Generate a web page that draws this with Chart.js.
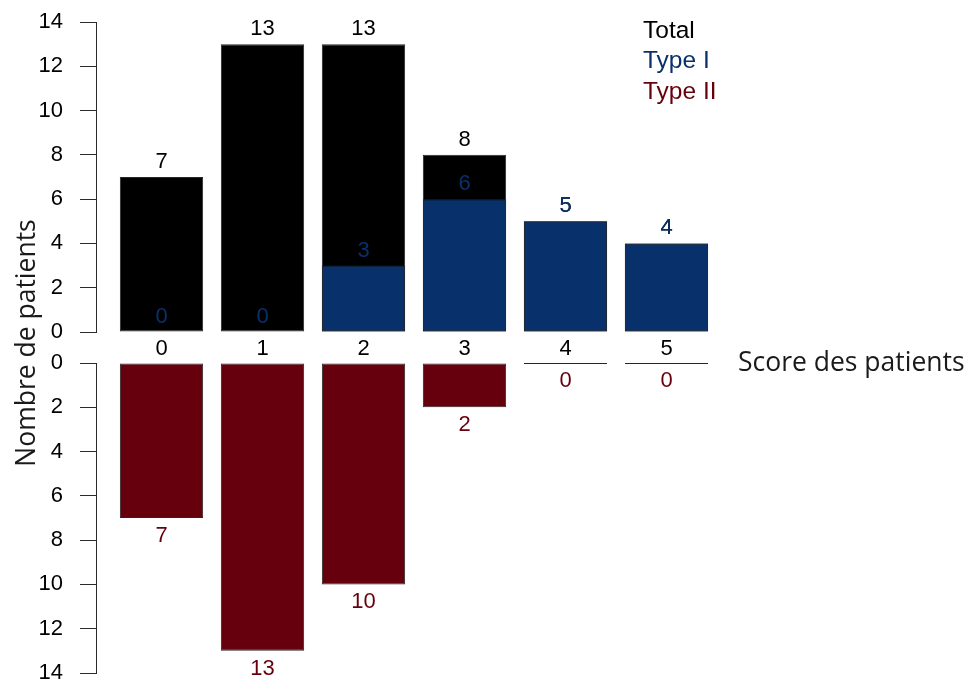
<!DOCTYPE html>
<html><head><meta charset="utf-8">
<script src="https://cdn.jsdelivr.net/npm/chart.js@4.4.1/dist/chart.umd.min.js"></script>
<style>
html,body{margin:0;padding:0;background:#fff;}
#wrap{position:relative;width:966px;height:684px;overflow:hidden;}
canvas{position:absolute;left:0;top:0;}
</style></head><body>
<div id="wrap"><canvas id="topChart" width="966" height="684"></canvas><canvas id="botChart" width="966" height="684"></canvas></div>
<script>
// ---- data ----
const categories = [0, 1, 2, 3, 4, 5];
const totalValues = [7, 13, 13, 8, 5, 4];
const typeIValues = [0, 0, 3, 6, 5, 4];
const typeIIValues = [7, 13, 10, 2, 0, 0];
const yTicks = [0, 2, 4, 6, 8, 10, 12, 14];
const seriesNames = ['Total', 'Type I', 'Type II'];
const xTitle = 'Score des patients';
const yTitle = 'Nombre de patients';

// ---- styles ----
const COL_TOTAL = '#000000';
const COL_T1 = '#08306B';
const COL_T2 = '#67000D';
const BORDER = '#262626';
const AXIS = '#2b2b2b';
const FONT = '"Liberation Sans", Arial, sans-serif';
const X_MIN = -0.6485, X_MAX = 5.6287;

Chart.defaults.font.family = FONT;
Chart.defaults.color = '#000';

const toXY = (vals) => categories.map((c, i) => ({ x: c, y: vals[i] }));

const valueLabels = {
  id: 'valueLabels',
  afterDatasetsDraw(chart) {
    const ctx = chart.ctx;
    ctx.save();
    ctx.font = '22px ' + FONT;
    ctx.textAlign = 'center';
    ctx.textBaseline = 'middle';
    chart.data.datasets.forEach((ds, di) => {
      const meta = chart.getDatasetMeta(di);
      ctx.fillStyle = ds.labelColor;
      meta.data.forEach((el, i) => {
        const end = chart.scales.y.getPixelForValue(ds.data[i].y);
        ctx.fillText(String(ds.data[i].y), el.x, end + ds.labelOffset);
      });
    });
    ctx.restore();
  }
};

const annotations = {
  id: 'annotations',
  afterDraw(chart) {
    const ctx = chart.ctx;
    ctx.save();
    ctx.font = '24.5px ' + FONT;
    ctx.textAlign = 'left';
    ctx.textBaseline = 'middle';
    const cols = [COL_TOTAL, COL_T1, COL_T2];
    seriesNames.forEach((n, i) => {
      ctx.fillStyle = cols[i];
      ctx.fillText(n, 643, 31 + 30.5 * i);
    });
    ctx.font = '26.5px "Open Sans", sans-serif';
    ctx.fillStyle = '#1a1a1a';
    ctx.textBaseline = 'alphabetic';
    ctx.fillText(xTitle, 738, 371);
    ctx.translate(35, 343);
    ctx.rotate(-Math.PI / 2);
    ctx.textAlign = 'center';
    ctx.fillText(yTitle, 0, 0);
    ctx.restore();
  }
};

function yAxis(reverse) {
  return {
    type: 'linear',
    position: 'left',
    min: 0, max: 14,
    reverse: reverse,
    afterBuildTicks: (s) => { s.ticks = yTicks.map(v => ({ value: v })); },
    afterFit: (s) => { s.width = 96; s.paddingTop = 0; s.paddingBottom = 0; },
    ticks: { font: { size: 22 }, color: '#000', padding: 17 },
    grid: { display: true, drawOnChartArea: false, drawTicks: true, tickLength: 16, color: AXIS, lineWidth: 1 },
    border: { display: true, color: AXIS, width: 1 }
  };
}

const barCommon = { borderColor: BORDER, borderWidth: 1, borderSkipped: false, barPercentage: 1, categoryPercentage: 0.825, grouped: false };

new Chart(document.getElementById('topChart'), {
  type: 'bar',
  data: {
    datasets: [
      Object.assign({ label: seriesNames[0], data: toXY(totalValues), backgroundColor: COL_TOTAL, order: 2, labelColor: COL_TOTAL, labelOffset: -15 }, barCommon),
      Object.assign({ label: seriesNames[1], data: toXY(typeIValues), backgroundColor: COL_T1, order: 1, labelColor: COL_T1, labelOffset: -15 }, barCommon)
    ]
  },
  options: {
    responsive: false, animation: false,
    layout: { padding: { top: 22, left: 0, right: 236, bottom: 322 } },
    plugins: { legend: { display: false }, tooltip: { enabled: false } },
    scales: {
      x: {
        type: 'linear', position: 'bottom', min: X_MIN, max: X_MAX, offset: false,
        afterBuildTicks: (s) => { s.ticks = categories.map(v => ({ value: v })); },
        afterFit: (s) => { s.height = 30; s.paddingLeft = 0; s.paddingRight = 0; },
        ticks: { font: { size: 22 }, color: '#000', padding: 4, callback: (v) => String(v) },
        grid: { display: false, drawTicks: false, offset: false },
        border: { display: false }
      },
      y: yAxis(false)
    }
  },
  plugins: [valueLabels, annotations]
});

new Chart(document.getElementById('botChart'), {
  type: 'bar',
  data: {
    datasets: [
      Object.assign({ label: seriesNames[2], data: toXY(typeIIValues), backgroundColor: COL_T2, labelColor: COL_T2, labelOffset: 18, minBarLength: 2 }, barCommon)
    ]
  },
  options: {
    responsive: false, animation: false,
    layout: { padding: { top: 363, left: 0, right: 236, bottom: 11 } },
    plugins: { legend: { display: false }, tooltip: { enabled: false } },
    scales: {
      x: {
        type: 'linear', min: X_MIN, max: X_MAX, offset: false,
        afterBuildTicks: (s) => { s.ticks = categories.map(v => ({ value: v })); },
        afterFit: (s) => { s.height = 0; s.paddingLeft = 0; s.paddingRight = 0; },
        ticks: { display: false },
        grid: { display: false, drawTicks: false, offset: false },
        border: { display: false }
      },
      y: yAxis(true)
    }
  },
  plugins: [valueLabels]
});
</script>
</body></html>
